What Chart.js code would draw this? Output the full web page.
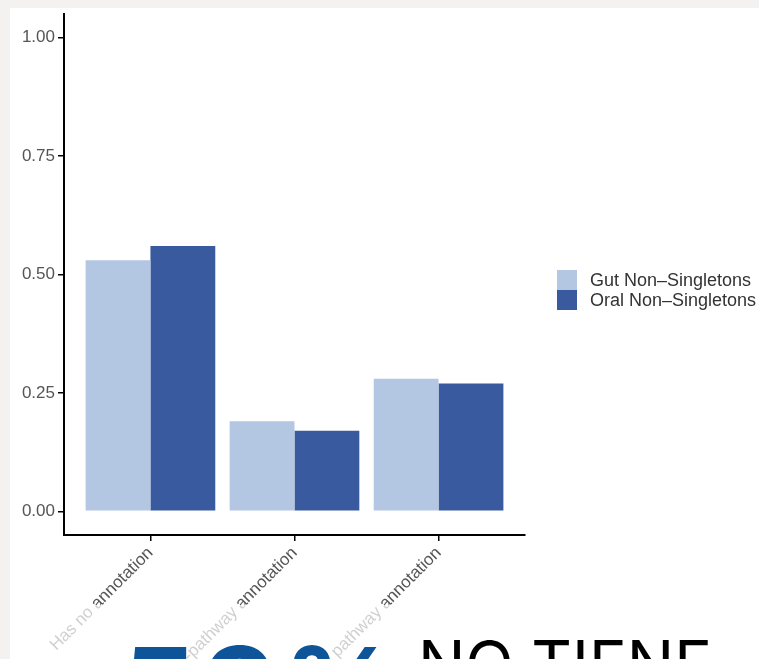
<!DOCTYPE html>
<html>
<head>
<meta charset="utf-8">
<script src="https://cdn.jsdelivr.net/npm/chart.js@4.4.1/dist/chart.umd.min.js"></script>
<style>
  html, body { margin: 0; padding: 0; }
  body { width: 759px; height: 659px; background: #f3f2f0; position: relative; overflow: hidden; }
  #panel { position: absolute; left: 10px; top: 8px; right: 0; bottom: 0; background: #ffffff; }
  #chart { position: absolute; left: 0; top: 0; }
  #fade { position: absolute; left: 10px; right: 0; top: 605px; bottom: 0; background: rgba(255,255,255,0.72); }
  .big { position: absolute; white-space: nowrap; line-height: 1; }
  #pct { left: 122px; top: 619px; font: 700 116px "Inter", "Open Sans", sans-serif; color: #0e5499; letter-spacing: 6px; }
  #note { left: 418px; top: 625px; font: 400 63px "Inter", "Open Sans", sans-serif; color: #000; }
</style>
</head>
<body>
<div id="panel"></div>
<canvas id="chart" width="759" height="659"></canvas>
<div id="fade"></div>
<div class="big" id="pct">53%</div>
<div class="big" id="note">NO TIENE</div>
<script>
// Share of non-singleton gene clusters by annotation status
const categories = ["Has no annotation", "Has non-pathway annotation", "Has pathway annotation"];
const seriesNames = ["Gut Non\u2013Singletons", "Oral Non\u2013Singletons"];
const gutValues = [0.53, 0.19, 0.28];
const oralValues = [0.56, 0.17, 0.27];
const yTicks = [0, 0.25, 0.5, 0.75, 1.0];

const toPoints = vals => vals.map((v, i) => ({ x: i + 1, y: v }));

// Legend drawn beside the panel, in the ggplot style (stacked keys, no gap)
const sideLegend = {
  id: 'sideLegend',
  afterDraw(chart, args, opts) {
    const ctx = chart.ctx;
    ctx.save();
    ctx.font = opts.font;
    ctx.textBaseline = 'middle';
    ctx.textAlign = 'left';
    chart.data.datasets.forEach((ds, i) => {
      const y = opts.top + i * opts.key;
      ctx.fillStyle = ds.backgroundColor;
      ctx.fillRect(opts.left, y, opts.key, opts.key);
      ctx.fillStyle = opts.color;
      ctx.fillText(ds.label, opts.left + opts.key + opts.gap, y + opts.key / 2 + 1);
    });
    ctx.restore();
  }
};

new Chart(document.getElementById('chart'), {
  type: 'bar',
  data: {
    datasets: [
      { label: seriesNames[0], data: toPoints(gutValues), backgroundColor: '#b3c6e2' },
      { label: seriesNames[1], data: toPoints(oralValues), backgroundColor: '#3a5a9f' }
    ]
  },
  options: {
    responsive: false,
    animation: false,
    layout: { padding: { top: 14, right: 234, bottom: 0, left: 0 } },
    datasets: { bar: { categoryPercentage: 0.9, barPercentage: 1.0 } },
    plugins: {
      legend: { display: false },
      tooltip: { enabled: false },
      sideLegend: { left: 557, top: 270, key: 20, gap: 13, font: '18px "Liberation Sans", Arial, sans-serif', color: '#333' }
    },
    scales: {
      x: {
        type: 'linear',
        offset: false,
        min: 0.4,
        max: 3.6,
        afterBuildTicks: s => { s.ticks = categories.map((c, i) => ({ value: i + 1 })); },
        afterFit: s => { s.height = 124; },
        border: { display: true, color: '#000', width: 2 },
        grid: { display: true, offset: false, drawOnChartArea: false, drawTicks: true, tickLength: 6, color: '#000', lineWidth: 1.5 },
        ticks: {
          autoSkip: false,
          minRotation: 45,
          maxRotation: 45,
          padding: 2,
          color: '#555',
          font: { family: '"Liberation Sans", Arial, sans-serif', size: 17 },
          callback: v => categories[v - 1]
        }
      },
      y: {
        min: -0.05,
        max: 1.05,
        afterBuildTicks: s => { s.ticks = yTicks.map(v => ({ value: v })); },
        afterFit: s => { s.width = 64; },
        border: { display: true, color: '#000', width: 2 },
        grid: { display: true, drawOnChartArea: false, drawTicks: true, tickLength: 6, color: '#000', lineWidth: 1.5 },
        ticks: {
          padding: 3,
          color: '#555',
          font: { family: '"Liberation Sans", Arial, sans-serif', size: 17 },
          callback: v => v.toFixed(2)
        }
      }
    }
  },
  plugins: [sideLegend]
});
</script>
</body>
</html>
